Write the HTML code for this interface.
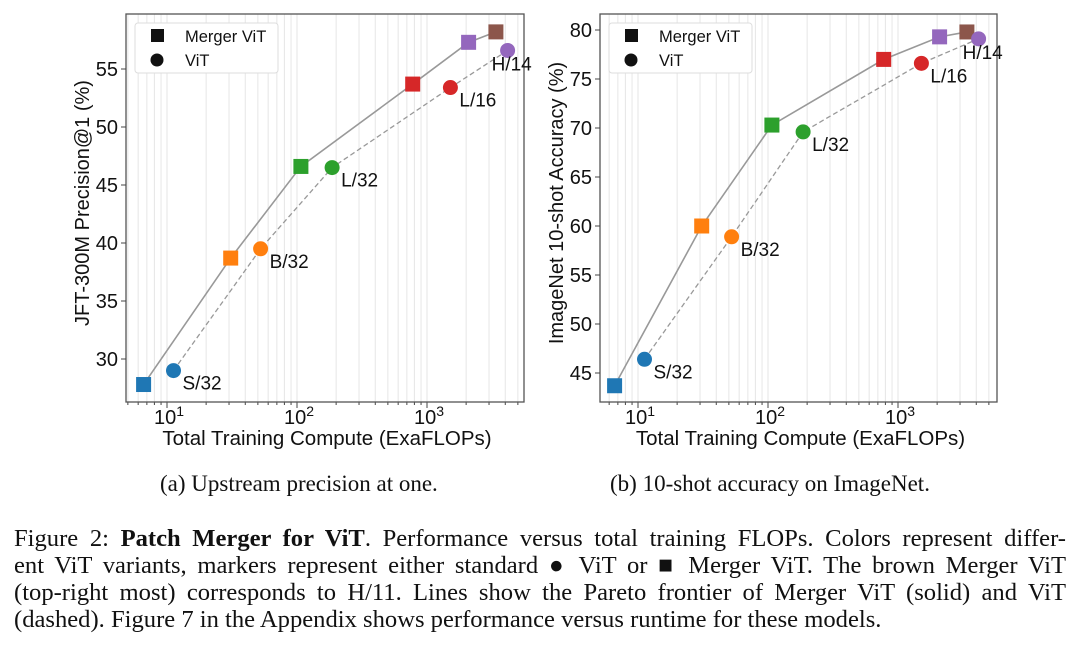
<!DOCTYPE html>
<html><head><meta charset="utf-8">
<style>
body{margin:0;background:#fff;width:1080px;height:647px;overflow:hidden;position:relative;font-family:"Liberation Sans",sans-serif}
svg{position:absolute;left:0;top:0}
.cap{position:absolute;left:14px;width:1052px;font-family:"Liberation Serif",serif;font-size:24.6px;color:#111;line-height:27px;white-space:nowrap}
.j{text-align:justify;text-align-last:justify}
.sub{position:absolute;font-family:"Liberation Serif",serif;font-size:23px;color:#111;top:471px}
</style></head><body>
<svg id="s" width="1080" height="460"></svg>
<div class="sub" style="left:160px">(a) Upstream precision at one.</div>
<div class="sub" style="left:610px">(b) 10-shot accuracy on ImageNet.</div>
<div>
<div class="cap j" style="top:525px">Figure 2: <b>Patch Merger for ViT</b>. Performance versus total training FLOPs. Colors represent differ-</div>
<div class="cap j" style="top:552px">ent ViT variants, markers represent either standard ● ViT or ■ Merger ViT. The brown Merger ViT</div>
<div class="cap j" style="top:579px">(top-right most) corresponds to H/11. Lines show the Pareto frontier of Merger ViT (solid) and ViT</div>
<div class="cap" style="top:606px">(dashed). Figure 7 in the Appendix shows performance versus runtime for these models.</div>
</div>
<script>
const mergerLogX=[0.82,1.49,2.03,2.89,3.32,3.53];
const vitLogX=[1.05,1.72,2.27,3.18,3.62];
const mergerColors=['#1f77b4','#ff7f0e','#2ca02c','#d62728','#9467bd','#8c564b'];
const vitColors=['#1f77b4','#ff7f0e','#2ca02c','#d62728','#9467bd'];
const vitLabels=['S/32','B/32','L/32','L/16','H/14'];
const leftMerger=[27.8,38.7,46.6,53.7,57.3,58.2];
const leftVit=[29.0,39.5,46.5,53.4,56.6];
const rightMerger=[43.7,60.0,70.3,77.0,79.3,79.8];
const rightVit=[46.4,58.9,69.6,76.6,79.1];
const leftTicks=[30,35,40,45,50,55];
const rightTicks=[45,50,55,60,65,70,75,80];
const xTicks=[1,2,3];

const NS='http://www.w3.org/2000/svg';
const svg=document.getElementById('s');
function el(t,a,p){const e=document.createElementNS(NS,t);for(const k in a)e.setAttribute(k,a[k]);(p||svg).appendChild(e);return e;}

function chart(cfg){
  const g=el('g',{});
  
  
  const L=cfg.left,R=cfg.right,T=14,B=402;
  const X=v=>cfg.x10+(v-1)*130;
  const Y=v=>cfg.y0+(v-cfg.v0)*cfg.py;
  for(let d=0;d<=3;d++){for(let m=1;m<10;m++){const lx=d+Math.log10(m);const px=X(lx);if(px<=L||px>=R)continue;
    const gl=el('line',{x1:px,x2:px,y1:T,y2:B,stroke:'#e6e6e6','stroke-width':1},g);
    
    const tk=el('line',{x1:px,x2:px,y1:B,y2:B+(m==1?6:3),stroke:'#444','stroke-width':1},g);
    }}
  const fr=el('rect',{x:L,y:T,width:R-L,height:B-T,fill:'none',stroke:'#555','stroke-width':1.3},g);
  
  xTicks.forEach(t=>{const tx=el('text',{x:X(t)-13,y:B+22,'font-size':20,fill:'#111'},g);tx.innerHTML='10<tspan dy="-8" font-size="14">'+t+'</tspan>';
    });
  cfg.ticks.forEach(t=>{const y=Y(t);el('line',{x1:L-5,x2:L,y1:y,y2:y,stroke:'#444'},g);
    const tx=el('text',{x:L-8,y:y+7,'font-size':20,'text-anchor':'end',fill:'#111'},g);tx.textContent=t;
    });
  const xt=el('text',{x:(L+R)/2+2,y:445,'font-size':20.5,'text-anchor':'middle',fill:'#111'},g);xt.textContent='Total Training Compute (ExaFLOPs)';
  
  const yt=el('text',{x:0,y:0,'font-size':20,'text-anchor':'middle',fill:'#111',transform:`translate(${L-37},${(T+B)/2-5}) rotate(-90)`},g);yt.textContent=cfg.ytitle;
  
  const mp=mergerLogX.map((v,i)=>X(v)+','+Y(cfg.merger[i])).join(' ');
  const l1=el('polyline',{points:mp,fill:'none',stroke:'#999','stroke-width':1.6},g);
  
  const vp=vitLogX.map((v,i)=>X(v)+','+Y(cfg.vit[i])).join(' ');
  const l2=el('polyline',{points:vp,fill:'none',stroke:'#999','stroke-width':1.3,'stroke-dasharray':'5,3'},g);
  
  mergerLogX.forEach((v,i)=>{const r=el('rect',{x:X(v)-7.5,y:Y(cfg.merger[i])-7.5,width:15,height:15,fill:mergerColors[i]},g);
    });
  vitLogX.forEach((v,i)=>{const c=el('circle',{cx:X(v),cy:Y(cfg.vit[i]),r:7.5,fill:vitColors[i]},g);
    
    const t=el('text',{x:X(v)+(i==4?-16:9),y:Y(cfg.vit[i])+(i==4?20:19),'font-size':19,fill:'#111'},g);t.textContent=vitLabels[i];
    });
  const lg=el('g',{},g);
  el('rect',{x:L+9,y:T+9,width:143,height:50,fill:'#fff',stroke:'#ddd',rx:3},lg);
  el('rect',{x:L+25,y:T+15,width:13,height:13,fill:'#111'},lg);
  el('circle',{cx:L+31,cy:T+46,r:6.5,fill:'#111'},lg);
  const a=el('text',{x:L+59,y:T+28,'font-size':16.5,fill:'#111'},lg);a.textContent='Merger ViT';
  const b=el('text',{x:L+59,y:T+52,'font-size':16.5,fill:'#111'},lg);b.textContent='ViT';
}
chart({name:'upstream-precision-chart',left:126,right:524,x10:167,y0:359,v0:30,py:-11.6,ticks:leftTicks,merger:leftMerger,vit:leftVit,ytitle:'JFT-300M Precision@1 (%)'});
chart({name:'imagenet-accuracy-chart',left:600,right:997,x10:638,y0:373,v0:45,py:-9.8,ticks:rightTicks,merger:rightMerger,vit:rightVit,ytitle:'ImageNet 10-shot Accuracy (%)'});
</script>
</body></html>
